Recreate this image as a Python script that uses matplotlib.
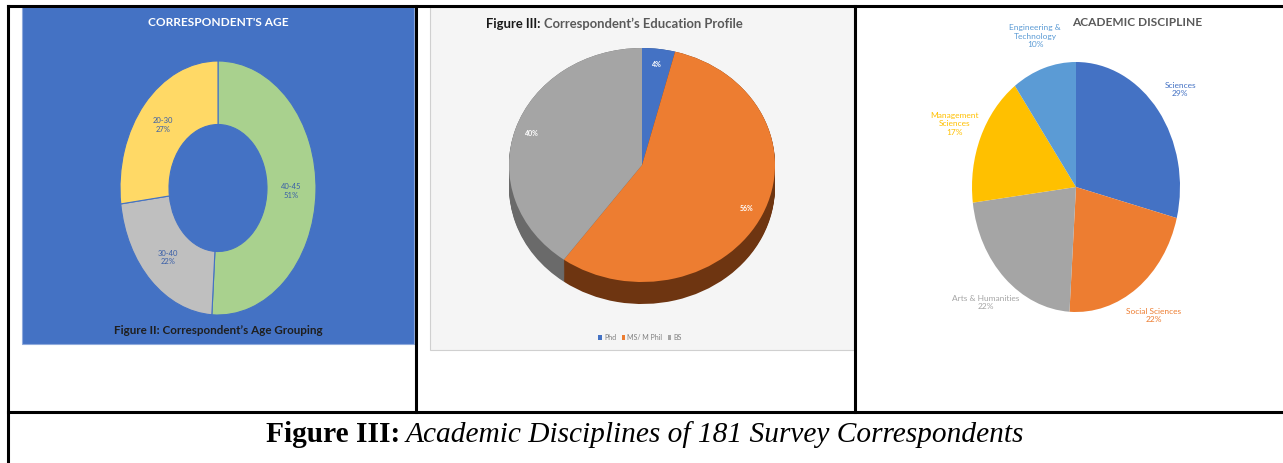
import matplotlib
matplotlib.use("Agg")
import matplotlib.pyplot as plt
from matplotlib.patches import Rectangle
from matplotlib.lines import Line2D
import numpy as np

# data
age_groups = ["40-45", "30-40", "20-30"]
age_share = [51, 22, 27]

edu_levels = ["Phd", "MS/ M Phil", "BS"]
edu_share = [4, 56, 40]

disciplines = ["Sciences", "Social Sciences", "Arts & Humanities",
               "Management\nSciences", "Engineering &\nTechnology"]
disc_share = [29, 22, 22, 17, 10]

W, H = 1283, 463
fig = plt.figure(figsize=(W / 100, H / 100), dpi=100)
fig.patch.set_facecolor("white")
plt.rcParams["font.family"] = ["Lato", "DejaVu Sans"]


def px_axes(x0, y0, x1, y1):
    # axes placed by pixel box (top-left origin)
    ax = fig.add_axes([x0 / W, 1 - y1 / H, (x1 - x0) / W, (y1 - y0) / H])
    ax.set_axis_off()
    return ax


def px_rect(x0, y0, x1, y1, **kw):
    fig.add_artist(Rectangle((x0 / W, 1 - y1 / H), (x1 - x0) / W, (y1 - y0) / H,
                             transform=fig.transFigure, zorder=-5, **kw))


def px_line(x0, y0, x1, y1):
    fig.add_artist(Line2D([x0 / W, x1 / W], [1 - y0 / H, 1 - y1 / H],
                          transform=fig.transFigure, color="black", lw=2.2))


def px_text(x, y, s, **kw):
    return fig.text(x / W, 1 - y / H, s, **kw)


# table grid
px_line(8, 6, W, 6)
px_line(8, 6, 8, H)
px_line(416, 6, 416, 412)
px_line(855, 6, 855, 412)
px_line(8, 412, W, 412)

# ---- panel 1: age donut ----
px_rect(22, 7, 414, 344, facecolor="#4472C4", edgecolor="#8faadc", lw=0.8)
ax1 = px_axes(120, 61, 316, 315)
wedges, texts = ax1.pie(age_share, labels=[f"{g}\n{p}%" for g, p in zip(age_groups, age_share)],
                        colors=["#A9D18E", "#BFBFBF", "#FFD966"], startangle=90,
                        counterclock=False, labeldistance=0.75,
                        wedgeprops=dict(width=0.5, edgecolor="#4472C4", linewidth=0.8),
                        textprops=dict(fontsize=5.5, color="#3a5fa8"))
for t in texts:
    t.set_ha("center")
    t.set_va("center")
ax1.set_xlim(-1, 1)
ax1.set_ylim(-1, 1)
ax1.set_aspect("auto")
px_text(218, 23, "CORRESPONDENT'S AGE", ha="center", va="center",
        fontsize=8.6, fontweight="bold", color="white")
px_text(218, 331, "Figure II: Correspondent\u2019s Age Grouping", ha="center", va="center",
        fontsize=8.4, fontweight="bold", color="#1f1f1f")

# ---- panel 2: education 3D pie ----
px_rect(430, 7, 854, 350, facecolor="#f5f5f5", edgecolor="#d0d0d0", lw=0.8)
ax2 = px_axes(509, 48, 775, 282)
depth = 22 / 117
side_colors = ["#2c4a80", "#6e3511", "#6a6a6a"]
for d in np.linspace(depth, 0, 24):
    ax2.pie(edu_share, colors=side_colors, startangle=90, counterclock=False,
            center=(0, -d), radius=1)
top, _, pcts = ax2.pie(edu_share, colors=["#4472C4", "#ED7D31", "#A5A5A5"],
                       startangle=90, counterclock=False, autopct="%d%%",
                       pctdistance=0.87,
                       textprops=dict(fontsize=5, color="white", fontweight="bold"))
ax2.set_xlim(-1, 1)
ax2.set_ylim(-1, 1)
ax2.set_aspect("auto")
leg = ax2.legend(top, edu_levels, loc="center", ncol=3, frameon=False,
                 bbox_to_anchor=(640 / W, 1 - 337 / H), bbox_transform=fig.transFigure,
                 fontsize=5, labelcolor="#7f7f7f", handlelength=0.5, handleheight=0.7,
                 handletextpad=0.3, columnspacing=0.8)
t_bold = px_text(486, 24, "Figure III:", ha="left", va="center",
                 fontsize=9.4, fontweight="bold", color="#1a1a1a")
fig.canvas.draw()
bb = t_bold.get_window_extent()
px_text(bb.x1 + 3, 24, "Correspondent\u2019s Education Profile", ha="left", va="center",
        fontsize=9.4, fontweight="bold", color="#595959")

# ---- panel 3: academic discipline pie ----
ax3 = px_axes(972, 62, 1180, 312)
lab_colors = ["#4472C4", "#ED7D31", "#A5A5A5", "#FFC000", "#5B9BD5"]
w3, t3 = ax3.pie(disc_share, labels=[f"{d}\n{p}%" for d, p in zip(disciplines, disc_share)],
                 colors=lab_colors, startangle=90, counterclock=False,
                 labeldistance=1.27, textprops=dict(fontsize=6))
for t, c in zip(t3, lab_colors):
    t.set_ha("center")
    t.set_va("center")
    t.set_color(c)
ax3.set_xlim(-1, 1)
ax3.set_ylim(-1, 1)
ax3.set_aspect("auto")
px_text(1137, 23, "ACADEMIC DISCIPLINE", ha="center", va="center",
        fontsize=8.6, fontweight="bold", color="#595959")

# ---- caption ----
c1 = px_text(265, 435, "Figure III:", ha="left", va="center", fontsize=21.2,
             fontweight="bold", family="Liberation Serif")
fig.canvas.draw()
b1 = c1.get_window_extent()
c2 = px_text(b1.x1 + 5, 435, "Academic Disciplines of 181 Survey Correspondents",
             ha="left", va="center", fontsize=21.2, style="italic", family="Liberation Serif")
fig.canvas.draw()
b2 = c2.get_window_extent()
shift = (645 - (b1.x0 + b2.x1) / 2)
c1.set_x(c1.get_position()[0] + shift / W)
c2.set_x(c2.get_position()[0] + shift / W)

fig.savefig("out.png", dpi=100)
